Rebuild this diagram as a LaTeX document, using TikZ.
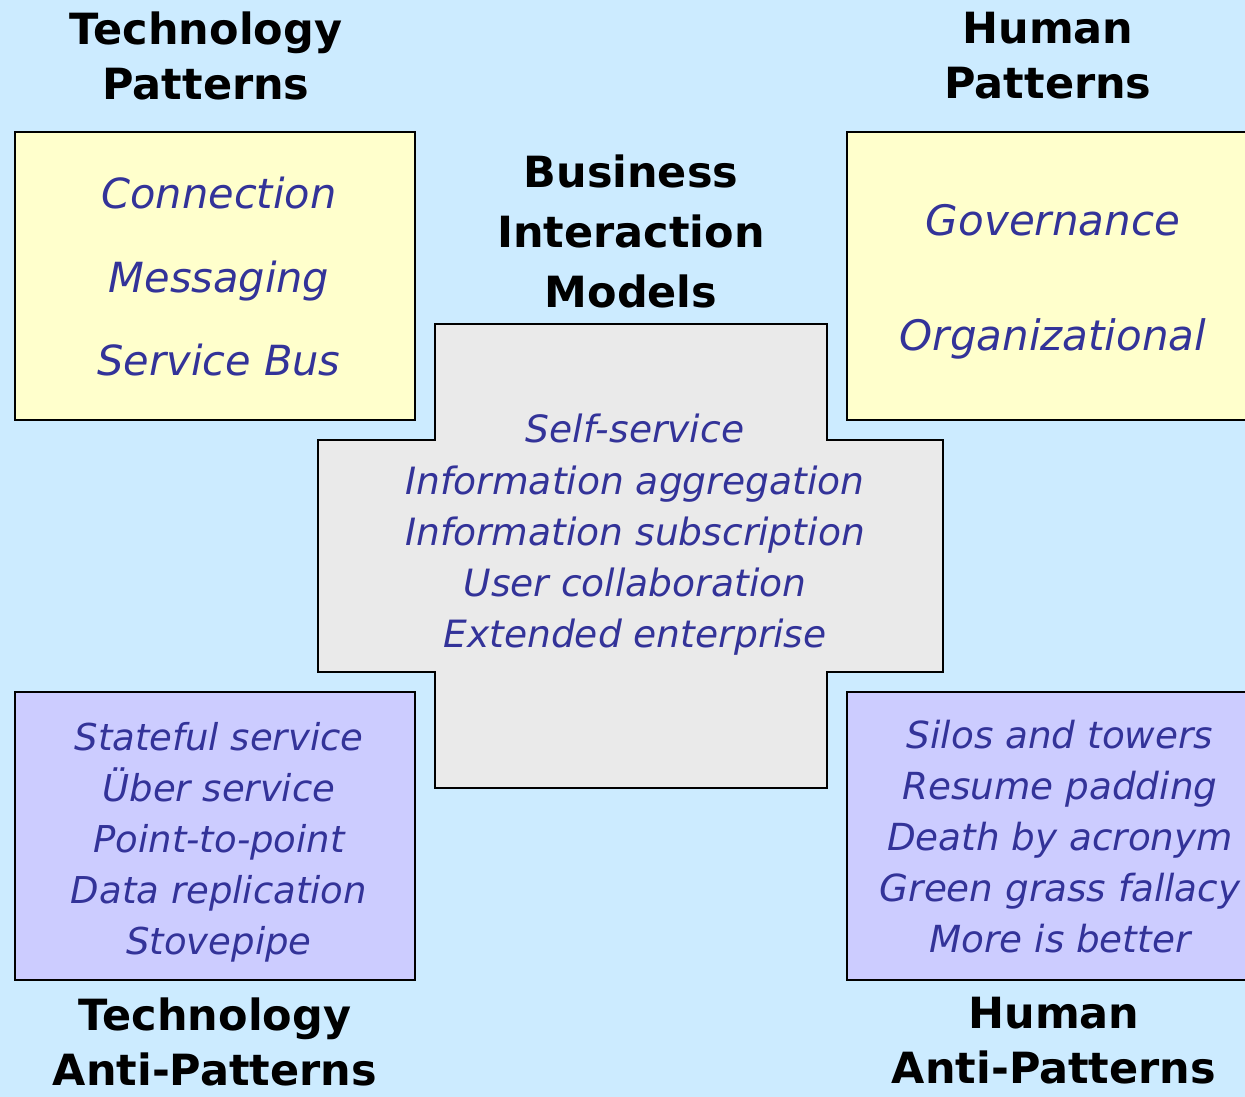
\documentclass[tikz,border=0pt]{standalone}
\usepackage{fontspec}
\setmainfont{DejaVu Sans}

\definecolor{sky}{HTML}{CCEBFF}
\definecolor{paleyellow}{HTML}{FFFFCC}
\definecolor{lavender}{HTML}{CCCCFF}
\definecolor{crossgray}{HTML}{EAEAEA}
\definecolor{itemblue}{HTML}{333399}

\tikzset{patbox/.style={
    draw,
    line width=2pt,
    minimum width=400pt,
    minimum height=288pt,
    inner sep=0pt
}}
\tikzset{heading/.style={
    font=\bfseries\fontsize{43}{55}\selectfont
}}
\tikzset{items/.style={
    text=itemblue,
    font=\itshape
}}

\begin{document}
\begin{tikzpicture}[
            x=1pt,
            y=-1pt,
            align=center,
            inner sep=0pt,
    ]
        \useasboundingbox (0,0) rectangle (1245,1097);
        \clip (0,0) rectangle (1245,1097);
        \fill[sky] (0,0) rectangle (1245,1097);

        % pattern boxes
        \node[patbox, fill=paleyellow] (tech-box) at (215,276) {};
        \node[patbox, fill=paleyellow, minimum width=410pt] (human-box) at (1052,276) {};
        \node[patbox, fill=lavender] (tech-anti-box) at (215,836) {};
        \node[patbox, fill=lavender, minimum width=420pt] (human-anti-box) at (1057,836) {};

        % business cross in the middle
        \draw[fill=crossgray, line width=2pt]
            (435,324) -- (827,324) -- (827,440) -- (943,440) -- (943,672)
            -- (827,672) -- (827,788) -- (435,788) -- (435,672) -- (318,672)
            -- (318,440) -- (435,440) -- cycle;

        % headings
        \node[heading] (tech-title) at (206,56) {Technology\\Patterns};
        \node[heading] (human-title) at (1048,56) {Human\\Patterns};
        \node[heading, font=\bfseries\fontsize{43}{60}\selectfont]
            (business-title) at (631,231) {Business\\Interaction\\Models};
        \node[heading] (tech-anti-title) at (215,1042) {Technology\\Anti-Patterns};
        \node[heading] (human-anti-title) at (1054,1041) {Human\\Anti-Patterns};

        % box contents
        \node[items, font=\itshape\fontsize{41.5}{83.5}\selectfont]
            (tech-items) at (219,277)
            {Connection\\Messaging\\Service Bus};

        \node[items, font=\itshape\fontsize{42}{115}\selectfont]
            (human-items) at (1053,282)
            {Governance\\Organizational};

        \node[items, font=\itshape\fontsize{37.6}{51.3}\selectfont]
            (business-items) at (635,535)
            {Self-service\\Information aggregation\\Information subscription\\User collaboration\\Extended enterprise};

        \node[items, font=\itshape\fontsize{37}{51}\selectfont]
            (tech-anti-items) at (219,842)
            {Stateful service\\Über service\\Point-to-point\\Data replication\\Stovepipe};

        \node[items, font=\itshape\fontsize{37.3}{51}\selectfont]
            (human-anti-items) at (1060,837)
            {Silos and towers\\Resume padding\\Death by acronym\\Green grass fallacy\\More is better};

    \end{tikzpicture}
\end{document}
